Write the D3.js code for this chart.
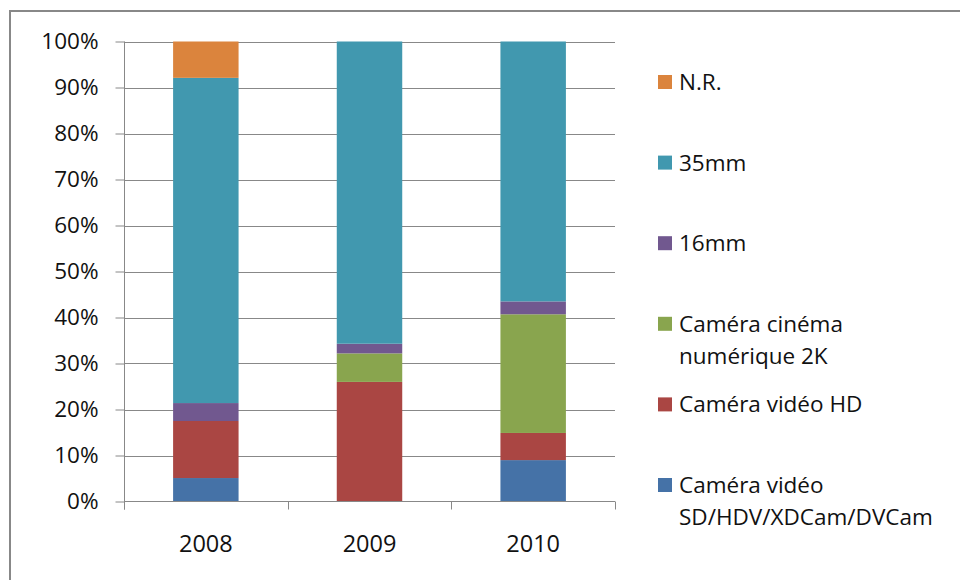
<!DOCTYPE html>
<html>
<head>
<meta charset="utf-8">
<script src="https://cdn.jsdelivr.net/npm/d3@7"></script>
<style>
  html, body { margin: 0; padding: 0; background: #fff; }
  svg { display: block; font-family: "Open Sans", sans-serif; }
</style>
</head>
<body>
<svg id="chart" width="960" height="580"></svg>
<script>
const years = ["2008", "2009", "2010"];

// percentages per year, stacked bottom to top
const sdCam = [5.1, 0, 9.0];
const hdCam = [12.4, 26.0, 5.9];
const cinema2k = [0, 6.2, 25.8];
const film16 = [3.9, 2.1, 2.8];
const film35 = [70.7, 65.7, 56.5];
const notReported = [7.9, 0, 0];

const seriesNames = ["Caméra vidéo SD/HDV/XDCam/DVCam", "Caméra vidéo HD", "Caméra cinéma numérique 2K", "16mm", "35mm", "N.R."];
const legendLines = [["Caméra vidéo", "SD/HDV/XDCam/DVCam"], ["Caméra vidéo HD"], ["Caméra cinéma", "numérique 2K"], ["16mm"], ["35mm"], ["N.R."]];
const colors = ["#4572a7", "#aa4643", "#89a54e", "#71588f", "#4198af", "#db843d"];
const yTicks = [0, 0.1, 0.2, 0.3, 0.4, 0.5, 0.6, 0.7, 0.8, 0.9, 1];

const seriesValues = [sdCam, hdCam, cinema2k, film16, film35, notReported];
const rows = years.map((yr, i) => {
  const r = {year: yr};
  seriesNames.forEach((s, k) => r[s] = seriesValues[k][i]);
  return r;
});

const stacked = d3.stack()
  .keys(seriesNames)
  .offset(d3.stackOffsetExpand)(rows);

const svg = d3.select("#chart");
const plotLeft = 124, plotRight = 615, plotTop = 41.5, plotBottom = 501.5;

const slot = d3.scaleBand().domain(years).range([plotLeft, plotRight]);
const x = d3.scaleBand().domain(years).range([plotLeft, plotRight]).paddingInner(0.6).paddingOuter(0.3);
const y = d3.scaleLinear().domain([0, 1]).range([plotBottom, plotTop]);
const color = d3.scaleOrdinal().domain(seriesNames).range(colors);

// outer frame
svg.append("path")
  .attr("d", "M10,580 L10,11 L960,11")
  .attr("fill", "none")
  .attr("stroke", "#888")
  .attr("stroke-width", 2);

// gridlines
svg.append("g")
  .selectAll("line")
  .data(yTicks.slice(1))
  .join("line")
  .attr("x1", plotLeft).attr("x2", plotRight)
  .attr("y1", d => Math.round(y(d)) + 0.5)
  .attr("y2", d => Math.round(y(d)) + 0.5)
  .attr("stroke", "#888");

// bars
svg.append("g")
  .selectAll("g")
  .data(stacked)
  .join("g")
  .attr("fill", d => color(d.key))
  .selectAll("rect")
  .data(d => d)
  .join("rect")
  .attr("x", d => x(d.data.year))
  .attr("width", x.bandwidth())
  .attr("y", d => y(d[1]))
  .attr("height", d => y(d[0]) - y(d[1]));

// y axis
const yAxis = svg.append("g")
  .attr("transform", `translate(${plotLeft + 0.5},0)`)
  .call(d3.axisLeft(y).tickValues(yTicks).tickFormat(d3.format(".0%")).tickSize(9).tickPadding(17));
yAxis.select(".domain").attr("d", `M0,${plotTop}V${plotBottom + 8}`).attr("stroke", "#888");
yAxis.selectAll(".tick line").attr("stroke", "#888");
yAxis.selectAll(".tick text").attr("font-size", 22.5).attr("fill", "#111").attr("font-family", "Open Sans");

// x axis (category boundaries)
const xAxis = svg.append("g");
xAxis.append("line")
  .attr("x1", plotLeft).attr("x2", plotRight)
  .attr("y1", plotBottom).attr("y2", plotBottom)
  .attr("stroke", "#888");
xAxis.selectAll("line.tk")
  .data(years.map(d => slot(d)).concat([plotRight]))
  .join("line")
  .attr("class", "tk")
  .attr("x1", d => Math.round(d) + 0.5).attr("x2", d => Math.round(d) + 0.5)
  .attr("y1", plotBottom).attr("y2", plotBottom + 8)
  .attr("stroke", "#888");
xAxis.selectAll("text")
  .data(years)
  .join("text")
  .attr("x", d => x(d) + x.bandwidth() / 2)
  .attr("y", 552)
  .attr("text-anchor", "middle")
  .attr("font-size", 23.5)
  .attr("fill", "#111")
  .text(d => d);

// legend, top entry is the last series
const legend = svg.append("g")
  .selectAll("g")
  .data(seriesNames.slice().reverse())
  .join("g")
  .attr("transform", (d, i) => `translate(658,${82 + i * 80.6})`);

legend.append("rect")
  .attr("y", -7)
  .attr("width", 14)
  .attr("height", 14)
  .attr("fill", d => color(d));

legend.append("text")
  .attr("font-size", 22.5)
  .attr("fill", "#111")
  .selectAll("tspan")
  .data(d => legendLines[seriesNames.indexOf(d)])
  .join("tspan")
  .attr("x", 21)
  .attr("y", (d, i) => 8 + i * 32)
  .text(d => d);
</script>
</body>
</html>
